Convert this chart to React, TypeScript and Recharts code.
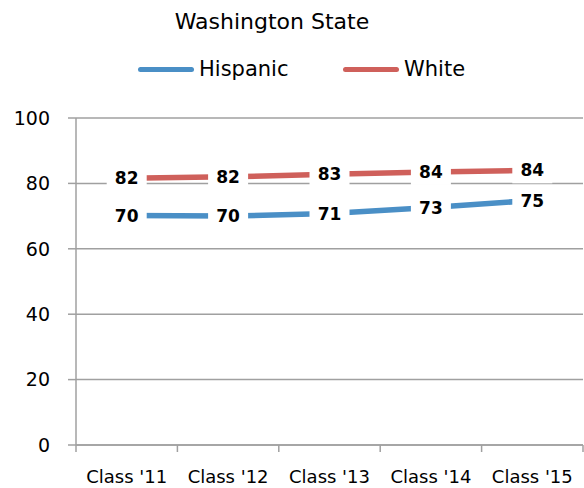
import { LineChart, Line, XAxis, YAxis, CartesianGrid, Legend, LabelList } from 'recharts';

// data
const categories = ["Class '11", "Class '12", "Class '13", "Class '14", "Class '15"];
const hispanic = [70.2, 70.0, 70.8, 72.6, 74.8];
const white = [81.6, 82.0, 82.8, 83.5, 84.0];
const yTicks = [0, 20, 40, 60, 80, 100];

const data = categories.map((name, i) => ({ name, hispanic: hispanic[i], white: white[i] }));

const W = 584;
const H = 488;
const AXIS_W = 76;
const RIGHT = 1;
const BAND = (W - AXIS_W - RIGHT) / categories.length;
const GRID = '#a0a0a0';
const FONT = "'DejaVu Sans', sans-serif";

const XTick = (props: any) => {
  const { x, y, payload, index } = props;
  const last = index === categories.length - 1;
  return (
    <g>
      <line x1={x - BAND / 2} y1={y} x2={x - BAND / 2} y2={y + 7} stroke={GRID} strokeWidth={1.5} />
      {last && <line x1={x + BAND / 2} y1={y} x2={x + BAND / 2} y2={y + 7} stroke={GRID} strokeWidth={1.5} />}
      <text x={x} y={y + 38} textAnchor="middle" fontSize={18} fontFamily={FONT} fill="#000">
        {payload.value}
      </text>
    </g>
  );
};

const DataLabel = (props: any) => {
  const { x, y, value } = props;
  return (
    <g>
      <rect x={x - 20} y={y - 13} width={40} height={26} fill="#fff" />
      <text x={x} y={y} dy="0.36em" textAnchor="middle" fontSize={17} fontWeight="bold" fontFamily={FONT} fill="#000">
        {Math.round(value)}
      </text>
    </g>
  );
};

const TitleLegend = ({ payload }: any) => (
  <div style={{ position: 'relative', width: W, height: 90, fontFamily: FONT, color: '#000' }}>
    <div style={{ position: 'absolute', left: 0, top: 11, width: 544, textAlign: 'center', fontSize: 22, lineHeight: '22px' }}>
      Washington State
    </div>
    <div style={{ position: 'absolute', left: 138, top: 59, height: 21, display: 'flex', alignItems: 'center' }}>
      {(payload || []).map((p: any) => (
        <div key={p.value} style={{ width: 205, display: 'flex', alignItems: 'center' }}>
          <div style={{ width: 56, height: 5.5, borderRadius: 3, background: p.color }} />
          <span style={{ marginLeft: 5, fontSize: 21, lineHeight: '21px' }}>{p.value}</span>
        </div>
      ))}
    </div>
  </div>
);

export default function App() {
  return (
    <div style={{ position: 'absolute', left: 0, top: 0, width: W, height: H, background: '#fff' }}>
      <LineChart width={W} height={H} data={data} margin={{ top: 118, right: RIGHT, left: 0, bottom: 0 }}>
        <CartesianGrid vertical={false} stroke={GRID} strokeWidth={1.5} />
        <XAxis
          dataKey="name"
          interval={0}
          height={43}
          padding={{ left: BAND / 2, right: BAND / 2 }}
          axisLine={{ stroke: GRID, strokeWidth: 1.5 }}
          tickLine={false}
          tickSize={0}
          tickMargin={0}
          tick={<XTick />}
        />
        <YAxis
          width={AXIS_W}
          domain={[0, 100]}
          ticks={yTicks}
          interval={0}
          axisLine={{ stroke: GRID, strokeWidth: 1.5 }}
          tickLine={{ stroke: GRID, strokeWidth: 1.5 }}
          tickSize={8}
          tickMargin={18}
          tick={{ fontSize: 19, fill: '#000', fontFamily: FONT }}
        />
        <Legend
          layout="horizontal"
          align="center"
          verticalAlign="middle"
          wrapperStyle={{ top: 0, left: 0, width: W }}
          content={<TitleLegend />}
        />
        <Line
          name="Hispanic"
          type="linear"
          dataKey="hispanic"
          stroke="#4a8fc6"
          strokeWidth={5.5}
          dot={false}
          activeDot={false}
          isAnimationActive={false}
        >
          <LabelList dataKey="hispanic" content={<DataLabel />} />
        </Line>
        <Line
          name="White"
          type="linear"
          dataKey="white"
          stroke="#cf605b"
          strokeWidth={5.5}
          dot={false}
          activeDot={false}
          isAnimationActive={false}
        >
          <LabelList dataKey="white" content={<DataLabel />} />
        </Line>
      </LineChart>
    </div>
  );
}
